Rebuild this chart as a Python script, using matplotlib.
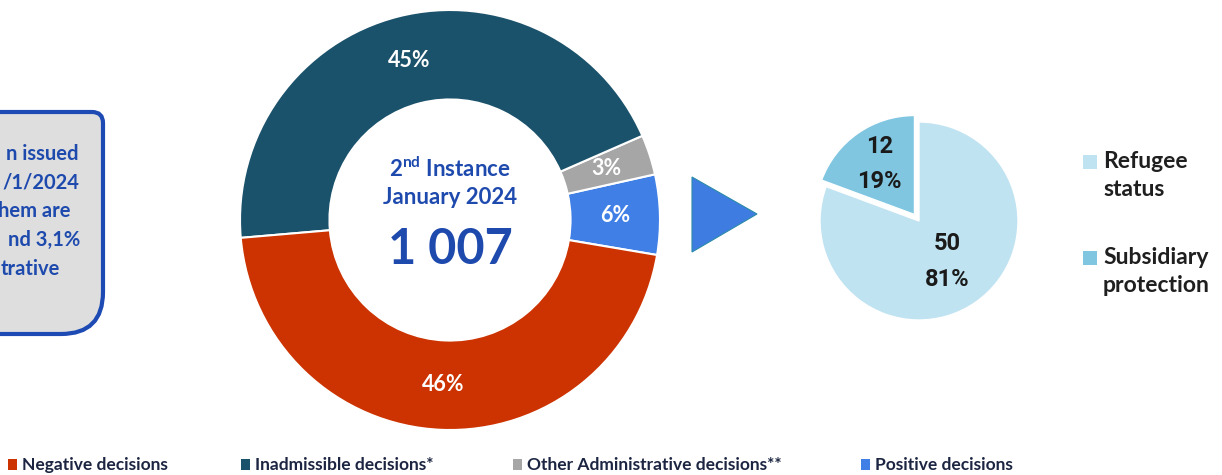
import numpy as np
import matplotlib
matplotlib.use("Agg")
import matplotlib.pyplot as plt
from matplotlib.path import Path
from matplotlib.patches import PathPatch, Polygon, Rectangle

plt.rcParams['font.family'] = ['Lato', 'DejaVu Sans']
plt.rcParams['mathtext.fontset'] = 'custom'
plt.rcParams['mathtext.rm'] = 'Lato:bold'
plt.rcParams['mathtext.bf'] = 'Lato:bold'
plt.rcParams['mathtext.it'] = 'Lato:bold'

# main donut data (2nd instance, January 2024)
decision_labels = ['Positive decisions', 'Other Administrative decisions**',
                   'Inadmissible decisions*', 'Negative decisions']
decision_counts = [62, 31, 451, 463]
decision_colors = ['#4080E6', '#A6A6A6', '#1B526B', '#CC3300']
total_decisions = 1007

# positive decisions breakdown
positive_labels = ['Refugee status', 'Subsidiary protection']
positive_counts = [50, 12]
positive_colors = ['#C0E3F2', '#80C6E1']

# legend order at the bottom
bottom_order = ['Negative decisions', 'Inadmissible decisions*',
                'Other Administrative decisions**', 'Positive decisions']

callout_lines = ['n issued', '/1/2024', 'hem are', 'nd 3,1%', 'trative']

W, H = 1222, 475
fig = plt.figure(figsize=(W / 100, H / 100), dpi=100)

# overlay axes in pixel coords (y down)
bg = fig.add_axes([0, 0, 1, 1])
bg.set_xlim(0, W)
bg.set_ylim(H, 0)
bg.axis('off')


def px_axes(cx, cy, r, lim=1.1):
    s = r * lim
    ax = fig.add_axes([(cx - s) / W, (H - cy - s) / H, 2 * s / W, 2 * s / H])
    ax.axis('off')
    return ax


def fix_lims(ax, lim):
    ax.set_xlim(-lim, lim)
    ax.set_ylim(-lim, lim)


blue_txt = '#1E4AAE'

# ---- callout box (cut off at left) ----
verts = [(-20, 112), (92, 112), (103, 112), (103, 123), (103, 292),
         (103, 334), (61, 334), (-20, 334), (-20, 112)]
codes = [Path.MOVETO, Path.LINETO, Path.CURVE3, Path.CURVE3, Path.LINETO,
         Path.CURVE3, Path.CURVE3, Path.LINETO, Path.CLOSEPOLY]
bg.add_patch(PathPatch(Path(verts, codes), facecolor='#DEDEDE',
                       edgecolor='#1E4AB4', lw=3, zorder=1))
callout_right = [78, 79, 70, 80, 60]
for i, line in enumerate(callout_lines):
    bg.text(callout_right[i], 154 + i * 28.7, line, ha='right', va='center',
            fontsize=14.5, fontweight='bold', color=blue_txt, zorder=2)

# ---- donut ----
ax1 = px_axes(450, 220, 210)
wedges, _, autotexts = ax1.pie(
    decision_counts, colors=decision_colors, startangle=-9.6,
    counterclock=True, radius=1, autopct='%.0f%%', pctdistance=0.785,
    wedgeprops=dict(width=0.426, edgecolor='white', linewidth=1.5),
    textprops=dict(color='white', fontsize=15.5, fontweight='bold'))
fix_lims(ax1, 1.1)

ax1.text(0, 0.245, r'$2^{nd}$ Instance', ha='center', va='center',
         fontsize=16, fontweight='bold', color=blue_txt)
ax1.text(0, 0.105, 'January 2024', ha='center', va='center',
         fontsize=16, fontweight='bold', color=blue_txt)
ax1.text(0, -0.14, f'{total_decisions:,}'.replace(',', ' '), ha='center',
         va='center', fontsize=35, fontweight='bold', color=blue_txt)

# ---- arrow triangle ----
bg.add_patch(Polygon([(692, 177), (692, 252), (757, 214)], closed=True,
                     facecolor='#3F7CE2', edgecolor='#2A8AA8', lw=0.8))

# ---- positive decisions pie ----
ax2 = px_axes(919, 221, 99, lim=1.2)
w2, _ = ax2.pie(positive_counts, colors=positive_colors, startangle=90,
                counterclock=False, explode=[0, 0.08], radius=1,
                wedgeprops=dict(edgecolor='white', linewidth=1))
fix_lims(ax2, 1.2)
label_r = [0.5, 0.62]
for k, w in enumerate(w2):
    mid = np.deg2rad((w.theta1 + w.theta2) / 2)
    cx, cy = w.center
    x = cx + label_r[k] * np.cos(mid)
    y = cy + label_r[k] * np.sin(mid)
    pct = positive_counts[k] / sum(positive_counts) * 100
    ax2.text(x, y, f'{positive_counts[k]}\n{pct:.0f}%', ha='center',
             va='center', fontsize=17, fontweight='bold', color='#1A1A1A',
             family=['Roboto', 'DejaVu Sans'], linespacing=1.7)

# right legend
for k, lab in enumerate(positive_labels):
    y0 = 162 + k * 96
    bg.add_patch(Rectangle((1083, y0 - 7), 14, 14, facecolor=positive_colors[k],
                           edgecolor='none'))
    words = lab.split(' ')
    bg.text(1103, y0 - 1, words[0], ha='left', va='center', fontsize=16.5,
            fontweight='bold', color='#1F1F1F')
    bg.text(1103, y0 + 28, words[1], ha='left', va='center', fontsize=16.5,
            fontweight='bold', color='#1F1F1F')

# bottom legend
leg_x = [8, 241, 513, 861]
for k, lab in enumerate(bottom_order):
    c = decision_colors[decision_labels.index(lab)]
    bg.add_patch(Rectangle((leg_x[k], 459), 9, 11, facecolor=c, edgecolor='none'))
    bg.text(leg_x[k] + 14, 465, lab, ha='left', va='center', fontsize=12.5,
            fontweight='bold', color='#1C2541')

fig.savefig('out.png', dpi=100)
